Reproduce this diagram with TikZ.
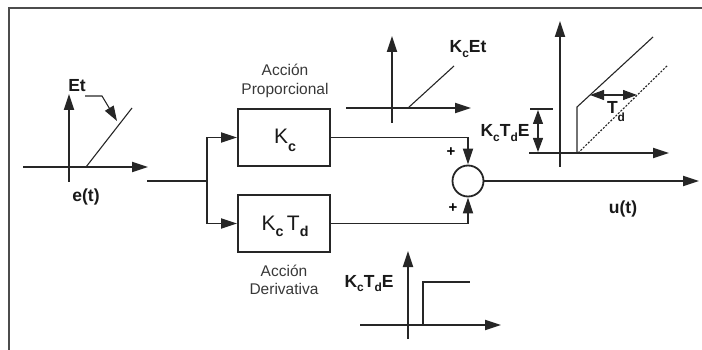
\documentclass[tikz,border=0pt]{standalone}
\usepackage{fontspec}
\setmainfont{Liberation Sans}
\usetikzlibrary{arrows.meta}
\newcommand{\sbx}[2][0.28em]{\raisebox{-#1}{\scalebox{0.68}{\bfseries #2}}}
\begin{document}
\begin{tikzpicture}[x=1pt,y=-1pt,
  ln/.style={line width=1.8pt, draw=black!85},
  thn/.style={line width=1.1pt, draw=black!85},
  tip/.style={-{Triangle[length=16pt,width=10pt]}},
  dtip/.style={{Triangle[length=14pt,width=10pt]}-{Triangle[length=14pt,width=10pt]}},
  blk/.style={draw=black!85, line width=1.8pt, minimum width=92pt, minimum height=57pt, inner sep=0pt},
  lbl/.style={font=\bfseries\fontsize{17.5}{19}\selectfont, inner sep=0pt, anchor=base, text=black!90},
  boxlbl/.style={font=\fontsize{21}{23}\selectfont, inner sep=0pt, anchor=base, text=black!90},
  captext/.style={font=\fontsize{15.5}{18.5}\selectfont, align=center, inner sep=0pt, text=black!78}]
\useasboundingbox (0,0) rectangle (702,350);
% frame
\draw[line width=1.7pt, black!70] (9,351) -- (9,8) -- (703,8);

% input plot e(t)
\draw[ln,tip] (69,182) -- (69,94);
\draw[ln,tip] (23,167) -- (148,167);
\draw[thn] (86,167) -- (132,108);
\node[lbl] (et) at (77,92) {Et};
\draw[thn,-{Triangle[length=15pt,width=10pt]}] (85,96) -- (102,96) -- (117,121);
\node[lbl] (e) at (86,202) {e(t)};

% blocks
\coordinate (in) at (147,181);
\coordinate (br) at (207,181);
\node[blk] (kc) at (284,137.5) {};
\node[blk] (kd) at (284,223.5) {};
\node[boxlbl] at (285,144) {K\sbx[0.38em]{c}};
\node[boxlbl] at (285,230) {K\sbx[0.3em]{c}\,T\sbx[0.3em]{d}};
\node[captext] (ap) at (285,81) {Acción\\Proporcional};
\node[captext] (ad) at (284,280) {Acción\\Derivativa};
\node[circle, draw=black!85, line width=1.8pt, minimum size=31pt, inner sep=0pt] (sum) at (468,181) {};
\coordinate (out) at (699,181);

\draw[ln] (in) -- (br);
\draw[ln,tip] (br) |- (kc.west);
\draw[ln,tip] (br) |- (kd.west);
\draw[ln,tip] (kc.east) -| (sum.north);
\draw[ln,tip] (kd.east) -| (sum.south);
\draw[ln,tip] (sum.east) -- (out);
\node[font=\bfseries\fontsize{15}{15}\selectfont, inner sep=0pt] (p1) at (451,152) {+};
\node[font=\bfseries\fontsize{15}{15}\selectfont, inner sep=0pt] (p2) at (453,208) {+};
\node[lbl] (u) at (623,214) {u(t)};

% proportional response
\draw[ln,tip] (392,123) -- (392,36);
\draw[ln,tip] (346,108) -- (471,108);
\draw[thn] (408,108) -- (454,66);
\node[lbl] (kcet) at (468,53) {K\sbx{c}Et};

% derivative response
\draw[ln,tip] (408,339) -- (408,251);
\draw[ln,tip] (360,325) -- (501,325);
\draw[thn] (423,325) -- (423,282) -- (470,282);
\node[lbl] (kctde2) at (369,287) {K\sbx{c}T\sbx{d}E};

% total response
\draw[ln,tip] (560,167) -- (560,21);
\draw[ln,tip] (529,153) -- (669,153);
\draw[thn] (577,153) -- (577,107) -- (653,37);
\draw[thn, dash pattern=on 2pt off 1.5pt] (578,153) -- (668,65);
\draw[thn,dtip] (590,95) -- (637,95);
\node[lbl] (td) at (616,114) {T\sbx[0.45em]{d}};
\draw[ln] (530,109) -- (553,109);
\draw[thn,dtip] (538,110) -- (538,152);
\node[lbl] (kctde) at (505,137) {K\sbx{c}T\sbx{d}E};
\end{tikzpicture}
\end{document}
